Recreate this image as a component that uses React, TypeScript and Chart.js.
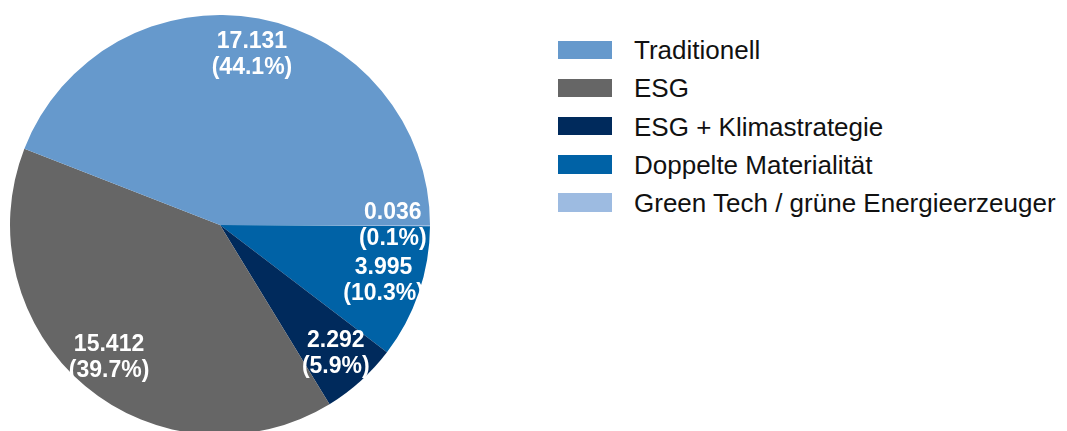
import React, { useEffect, useRef } from "react";
import { Chart, registerables } from "chart.js";

Chart.register(...registerables);

const categories = [
  "Traditionell",
  "ESG",
  "ESG + Klimastrategie",
  "Doppelte Materialität",
  "Green Tech / grüne Energieerzeuger",
];
const values = [17.131, 15.412, 2.292, 3.995, 0.036];
const colors = ["#6699CC", "#666666", "#002A5C", "#0062A6", "#9DBBE1"];

const labelPlugin = {
  id: "sliceLabels",
  afterDatasetsDraw(chart: any) {
    const ctx = chart.ctx;
    const meta = chart.getDatasetMeta(0);
    const data = chart.data.datasets[0].data as number[];
    const total = data.reduce((a: number, b: number) => a + b, 0);
    ctx.save();
    ctx.fillStyle = "#ffffff";
    ctx.font = "bold 23px 'Liberation Sans', Arial, sans-serif";
    ctx.textAlign = "center";
    ctx.textBaseline = "middle";
    meta.data.forEach((arc: any, i: number) => {
      const { x, y, startAngle, endAngle, outerRadius } = arc.getProps(
        ["x", "y", "startAngle", "endAngle", "outerRadius"],
        true
      );
      const mid = (startAngle + endAngle) / 2;
      const r = outerRadius * 0.823;
      const cx = x + Math.cos(mid) * r;
      const cy = y + Math.sin(mid) * r;
      ctx.fillText(data[i].toFixed(3), cx, cy - 13);
      ctx.fillText("(" + ((data[i] / total) * 100).toFixed(1) + "%)", cx, cy + 13);
    });
    ctx.restore();
  },
};

export default function App() {
  const canvasRef = useRef<HTMLCanvasElement | null>(null);

  useEffect(() => {
    if (!canvasRef.current) return;
    // slices run counter-clockwise from 3 o'clock in legend order -> reverse for Chart.js (clockwise)
    const chartLabels = [...categories].reverse();
    const chartValues = [...values].reverse();
    const chartColors = [...colors].reverse();
    const chart = new Chart(canvasRef.current, {
      type: "pie",
      data: {
        labels: chartLabels,
        datasets: [
          {
            data: chartValues,
            backgroundColor: chartColors,
            borderWidth: 0,
            hoverOffset: 0,
            offset: 0,
          },
        ],
      },
      options: {
        responsive: false,
        animation: false,
        rotation: 90,
        layout: { padding: 10 },
        plugins: {
          legend: { display: false },
          tooltip: { enabled: false },
        },
      },
      plugins: [labelPlugin],
    });
    return () => chart.destroy();
  }, []);

  const rowStep = 38.1;

  return (
    <div
      style={{
        position: "absolute",
        left: 0,
        top: 0,
        width: 1067,
        height: 431,
        overflow: "hidden",
        background: "#ffffff",
      }}
    >
      <canvas
        ref={canvasRef}
        width={440}
        height={450}
        style={{ position: "absolute", left: 0, top: 0, width: 440, height: 450 }}
      />
      {categories.map((name, i) => (
        <React.Fragment key={name}>
          <div
            style={{
              position: "absolute",
              left: 558,
              top: 40.7 + i * rowStep,
              width: 54,
              height: 18.6,
              background: colors[i],
            }}
          />
          <div
            style={{
              position: "absolute",
              left: 634,
              top: 37.3 + i * rowStep,
              fontFamily: "'Liberation Sans', Arial, sans-serif",
              fontSize: 26,
              lineHeight: "26px",
              color: "#111111",
              whiteSpace: "nowrap",
            }}
          >
            {name}
          </div>
        </React.Fragment>
      ))}
    </div>
  );
}
